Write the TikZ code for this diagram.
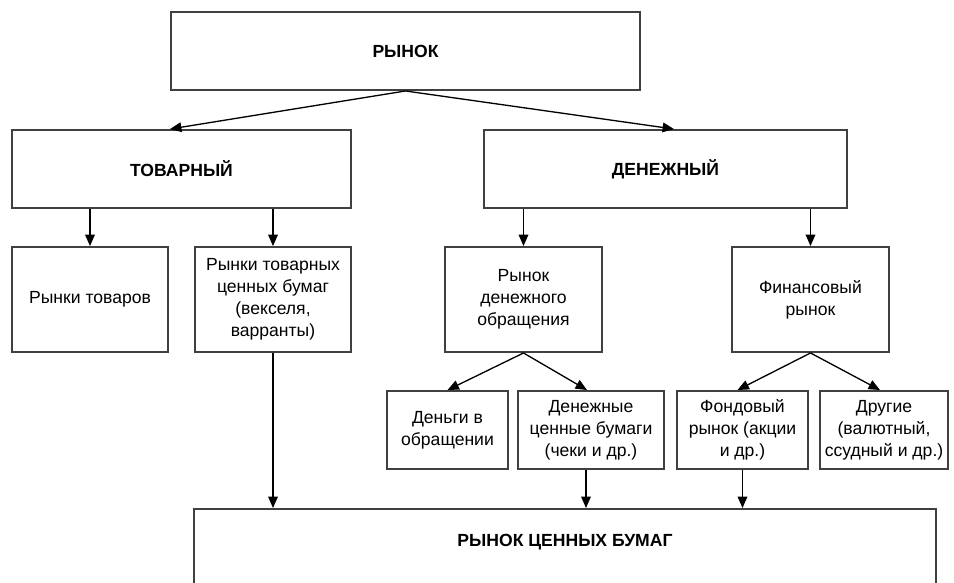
\documentclass[tikz,border=0pt]{standalone}
\usepackage{fontspec}
\setmainfont{Liberation Sans}
\usetikzlibrary{calc, positioning}
\usetikzlibrary{arrows.meta}

\def\px{0.02cm}

\begin{document}
\begin{tikzpicture}[x=0.02cm, y=-0.02cm,
  box/.style={draw=black!75, line width=1.1pt, align=center, inner sep=0pt,
    font=\fontsize{10}{12.5}\selectfont},
  headbox/.style={box, font=\bfseries\fontsize{10}{12.5}\selectfont},
  conn/.style={-{Triangle[length=6.5pt, width=5.5pt]}, line width=0.75pt}]

\clip (0,0) rectangle (954,582);

% top levels
\node[headbox, minimum width=469*\px, minimum height=78*\px] (rynok) at (405.5,51) {РЫНОК};
\node[headbox, minimum width=339*\px, minimum height=78*\px] (tovar) at (181.5,169) {ТОВАРНЫЙ};
\node[headbox, minimum width=363*\px, minimum height=78*\px] (denezh) at (665.5,169) {ДЕНЕЖНЫЙ};

% third row
\node[box, minimum width=156*\px, minimum height=105*\px] (tovary) at (90,299.5) {Рынки товаров};
\node[box, minimum width=156*\px, minimum height=105*\px] (tovbum) at (273,299.5)
  {Рынки товарных\\ценных бумаг\\(векселя,\\варранты)};
\node[box, minimum width=157*\px, minimum height=105*\px] (denobr) at (523.5,299.5)
  {Рынок\\денежного\\обращения};
\node[box, minimum width=157*\px, minimum height=105*\px] (finrynok) at (810.5,299.5)
  {Финансовый\\рынок};

% fourth row
\node[box, minimum width=121*\px, minimum height=78*\px] (dengi) at (447.5,430)
  {Деньги в\\обращении};
\node[box, minimum width=146*\px, minimum height=78*\px] (denbum) at (591,430)
  {Денежные\\ценные бумаги\\(чеки и др.)};
\node[box, minimum width=131*\px, minimum height=78*\px] (fond) at (742.5,430)
  {Фондовый\\рынок (акции\\и др.)};
\node[box, minimum width=128*\px, minimum height=78*\px] (drugie) at (884,430)
  {Другие\\(валютный,\\ссудный и др.)};

% bottom box, runs past the lower edge
\node[headbox, anchor=north, minimum width=742*\px, text height=38*\px, text depth=80*\px]
  (cb) at (565,508) {РЫНОК ЦЕННЫХ БУМАГ};

\draw[conn] (rynok.south) -- ([xshift=-11.5*\px]tovar.north);
\draw[conn] (rynok.south) -- ([xshift=8.5*\px]denezh.north);
\draw[conn] (tovary.north |- tovar.south) -- (tovary.north);
\draw[conn] (tovbum.north |- tovar.south) -- (tovbum.north);
\draw[conn] (denobr.north |- denezh.south) -- (denobr.north);
\draw[conn] (finrynok.north |- denezh.south) -- (finrynok.north);
\draw[conn] (denobr.south) -- (dengi.north);
\draw[conn] (denobr.south) -- ([xshift=-4*\px]denbum.north);
\draw[conn] (finrynok.south) -- ([xshift=-5*\px]fond.north);
\draw[conn] (finrynok.south) -- ([xshift=-4*\px]drugie.north);
\draw[conn] (tovbum.south) -- (tovbum.south |- cb.north);
\draw[conn] ([xshift=-5*\px]denbum.south) -- ([xshift=-5*\px]denbum.south |- cb.north);
\draw[conn] (fond.south) -- (fond.south |- cb.north);
\end{tikzpicture}
\end{document}
